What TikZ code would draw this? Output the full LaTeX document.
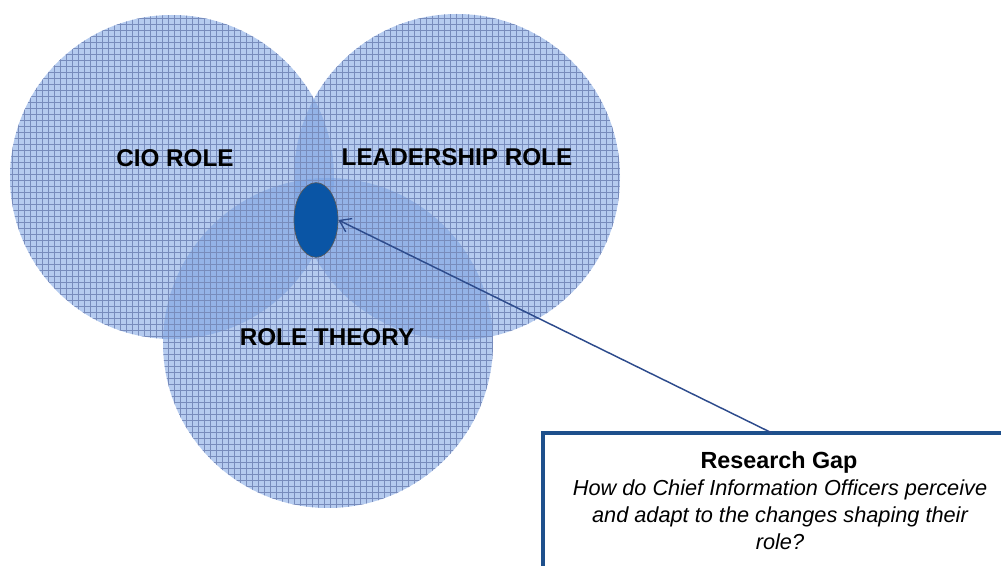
\documentclass[tikz,border=0pt]{standalone}
\usepackage{fontspec}
\setmainfont{Liberation Sans}
\usetikzlibrary{arrows.meta,shapes.geometric}
\definecolor{vfill}{RGB}{120,160,225}
\definecolor{gridc}{RGB}{120,140,188}
\definecolor{gapblue}{RGB}{10,85,165}
\definecolor{boxblue}{RGB}{30,80,140}
\definecolor{arrowblue}{RGB}{45,75,140}
\tikzset{
  vennfill/.style={fill=vfill, fill opacity=0.55},
  gridline/.style={draw=gridc, line width=0.35pt, xstep=4.5pt, ystep=4.5pt},
  vlabel/.style={font=\fontsize{18.2}{20}\selectfont\bfseries, text=black, inner sep=0pt},
  gapnode/.style={ellipse, minimum width=33pt, minimum height=56pt, fill=gapblue, draw=gray!70!black, line width=0.5pt, inner sep=0pt},
  qbox/.style={draw=boxblue, line width=3pt, fill=white},
}
\begin{document}
\begin{tikzpicture}[x=0.75pt,y=-0.75pt]
\useasboundingbox (0,0) rectangle (1001,566);
% circle centres
\coordinate (cioc) at (172,177);
\coordinate (leadc) at (457,177);
\coordinate (rolec) at (328,343);
% fills
\fill[vennfill] (cioc) circle[radius=162];
\fill[vennfill] (leadc) circle[radius=163];
\fill[vennfill] (rolec) circle[radius=165];
% grids
\begin{scope}
  \clip (cioc) circle[radius=162];
  \draw[gridline] (0,0) grid (1001,566);
\end{scope}
\begin{scope}
  \clip (leadc) circle[radius=163];
  \draw[gridline] (0,0) grid (1001,566);
\end{scope}
\begin{scope}
  \clip (rolec) circle[radius=165];
  \draw[gridline] (0,0) grid (1001,566);
\end{scope}
% labels
\node[vlabel] (cio) at (175,158) {CIO ROLE};
\node[vlabel] (lead) at (457,157) {LEADERSHIP ROLE};
\node[vlabel] (role) at (327,337) {ROLE THEORY};
% research gap ellipse
\node[gapnode] (gap) at (316,220) {};
% box
\draw[qbox] (543,433) rectangle (1012,580);
\coordinate (boxtop) at (772,433);
\node[font=\fontsize{17.5}{20}\selectfont\bfseries, inner sep=0pt] (rgtitle) at (779,462) {Research Gap};
\node[font=\fontsize{16.3}{20.25}\selectfont\itshape, align=center, inner sep=0pt, anchor=north] (question) at (780,479)
  {How do Chief Information Officers perceive\\and adapt to the changes shaping their\\role?};
% arrow
\draw[arrowblue, line width=1.1pt, -{Straight Barb[length=8pt,width=11pt,line width=1pt]}] (boxtop) -- (gap.east);
\end{tikzpicture}
\end{document}
